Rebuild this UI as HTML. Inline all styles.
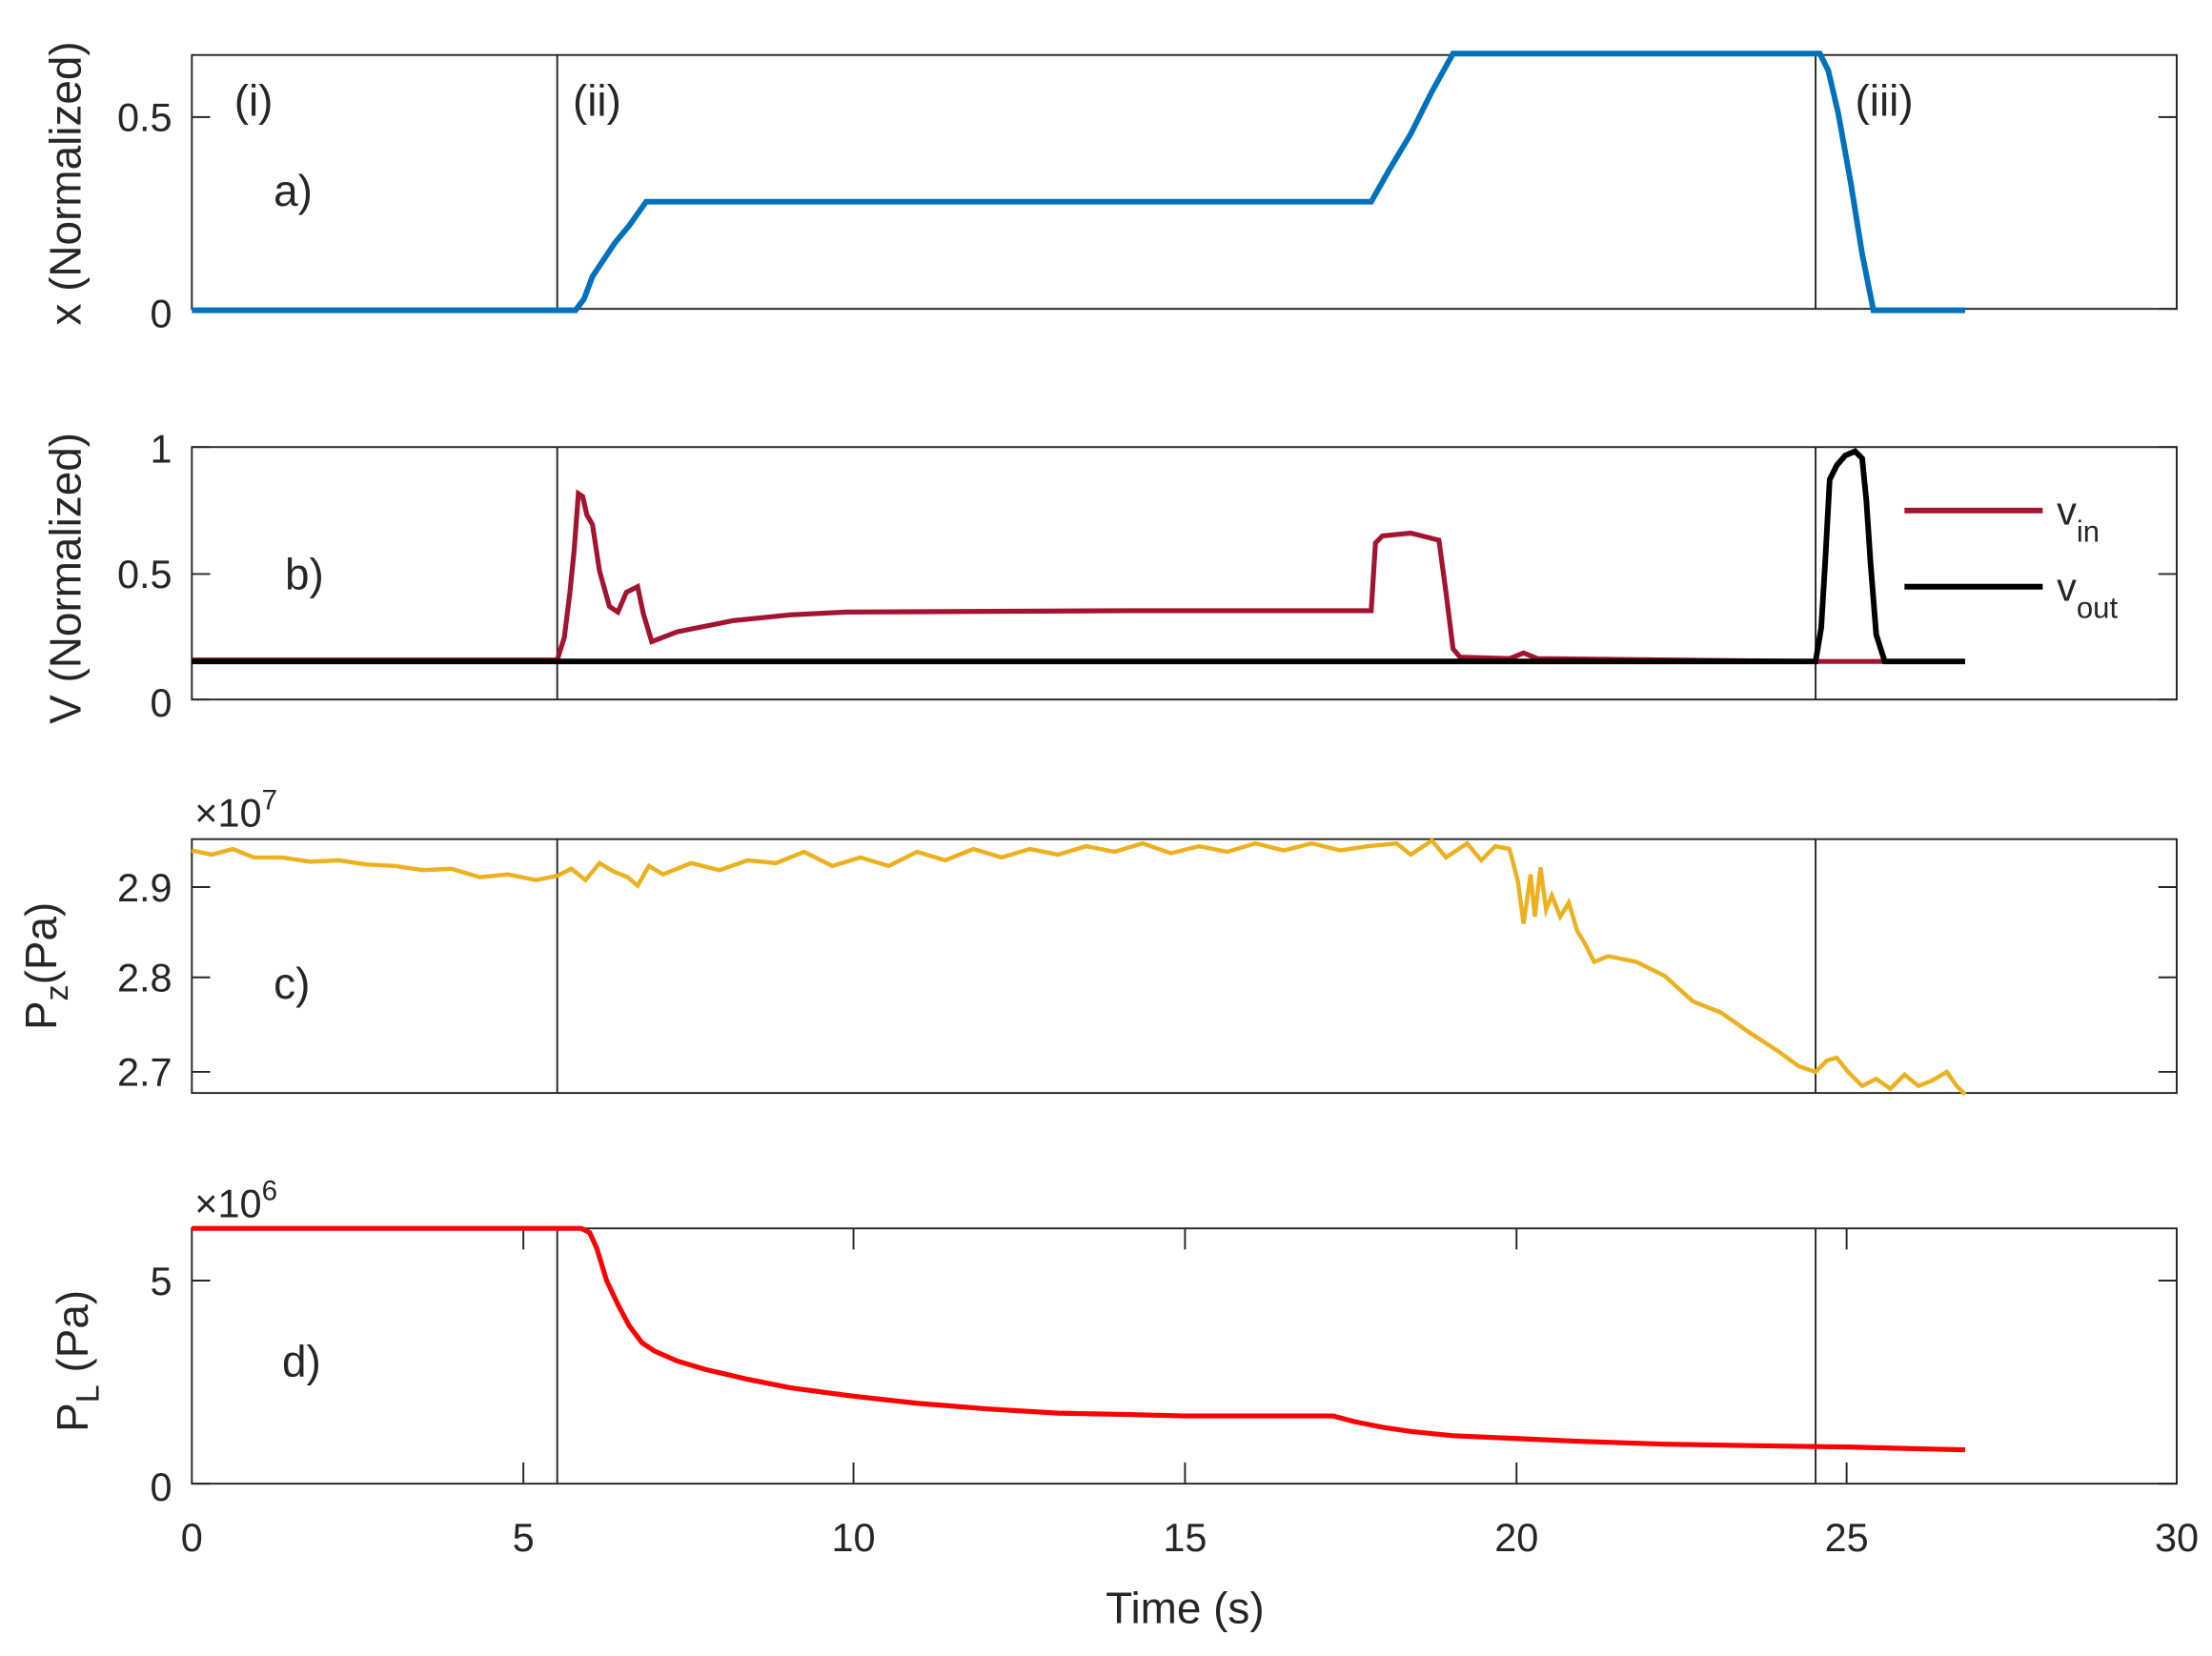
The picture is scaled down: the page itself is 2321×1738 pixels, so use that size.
<!DOCTYPE html>
<html><head><meta charset="utf-8"><style>
html,body{margin:0;padding:0;background:#fff;}
svg{display:block;}
text{font-family:"Liberation Sans",sans-serif;fill:#262626;}
</style></head><body>
<svg width="2321" height="1738" viewBox="0 0 1568 1174.2" preserveAspectRatio="none" xmlns="http://www.w3.org/2000/svg">
<g fill="none" stroke="#262626" stroke-width="1.3">
<rect x="136" y="39" width="1407" height="180"/>
<rect x="136" y="317" width="1407" height="179"/>
<rect x="136" y="595" width="1407" height="180"/>
<rect x="136" y="871" width="1407" height="181"/>
<line x1="395" y1="39" x2="395" y2="219"/><line x1="1287" y1="39" x2="1287" y2="219"/>
<line x1="395" y1="317" x2="395" y2="496"/><line x1="1287" y1="317" x2="1287" y2="496"/>
<line x1="395" y1="595" x2="395" y2="775"/><line x1="1287" y1="595" x2="1287" y2="775"/>
<line x1="395" y1="871" x2="395" y2="1052"/><line x1="1287" y1="871" x2="1287" y2="1052"/>
<path d="M136 83h13M1543 83h-13M136 219h13M1543 219h-13"/>
<path d="M136 317h13M1543 317h-13M136 407h13M1543 407h-13M136 496h13M1543 496h-13"/>
<path d="M136 629h13M1543 629h-13M136 693h13M1543 693h-13M136 760h13M1543 760h-13"/>
<path d="M136 908h13M1543 908h-13M136 1052h13M1543 1052h-13"/>
<path d="M371 1052v-15M605 1052v-15M840 1052v-15M1075 1052v-15M1309 1052v-15M371 871v15M605 871v15M840 871v15M1075 871v15M1309 871v15"/>
</g>
<g font-size="28" text-anchor="end">
<text x="122" y="93">0.5</text><text x="122" y="232">0</text>
<text x="122" y="328">1</text><text x="122" y="417">0.5</text><text x="122" y="508">0</text>
<text x="122" y="639">2.9</text><text x="122" y="703">2.8</text><text x="122" y="770">2.7</text>
<text x="122" y="918">5</text><text x="122" y="1064">0</text>
</g>
<g font-size="28" text-anchor="middle">
<text x="136" y="1100">0</text><text x="371" y="1100">5</text><text x="605" y="1100">10</text><text x="840" y="1100">15</text><text x="1075" y="1100">20</text><text x="1309" y="1100">25</text><text x="1543" y="1100">30</text>
<text x="840" y="1151" font-size="31">Time (s)</text>
</g>
<text x="138" y="586" font-size="28">×10<tspan font-size="20" dy="-12">7</tspan></text>
<text x="138" y="863" font-size="28">×10<tspan font-size="20" dy="-12">6</tspan></text>
<g font-size="31" text-anchor="middle">
<text transform="translate(57,130) rotate(-90)">x (Normalized)</text>
<text transform="translate(57,410) rotate(-90)">V (Normalized)</text>
<text transform="translate(40,685) rotate(-90)">P<tspan font-size="23" dy="8">z</tspan><tspan dy="-8">(Pa)</tspan></text>
<text transform="translate(62,965) rotate(-90)">P<tspan font-size="23" dy="8">L</tspan><tspan dy="-8"> (Pa)</tspan></text>
</g>
<g font-size="31">
<text x="166" y="82">(i)</text><text x="406" y="82">(ii)</text><text x="1315" y="82">(iii)</text>
<text x="194" y="146">a)</text><text x="202" y="418">b)</text><text x="194" y="708">c)</text><text x="200" y="976">d)</text>
</g>
<polyline fill="none" stroke="#0072BD" stroke-width="4" points="136,220 408,220 414,212 420,196 428,184 436,172 446,160 458,143 972,143 985,120 1000,95 1015,65 1030,38 1290,38 1296,50 1303,80 1312,130 1320,180 1328,220 1393,220"/>
<polyline fill="none" stroke="#A2142F" stroke-width="3.5" points="136,468 395,468 400,452 404,420 407,390 410,350 413,352 416,365 420,372 425,405 432,430 438,434 444,420 452,416 456,435 462,455 480,448 520,440 560,436 600,434 800,433 972,433 975,385 980,380 1000,378 1020,383 1025,420 1030,460 1035,466 1070,467 1080,463 1090,467 1287,469 1335,469"/>
<polyline fill="none" stroke="#000" stroke-width="4" points="136,469 1287,469 1291,445 1294,395 1297,340 1302,330 1308,323 1315,320 1320,325 1323,355 1326,400 1330,450 1336,469 1393,469"/>
<line x1="1350" y1="362" x2="1448" y2="362" stroke="#A2142F" stroke-width="4"/>
<line x1="1350" y1="416" x2="1448" y2="416" stroke="#000" stroke-width="4"/>
<text x="1458" y="372" font-size="28">v<tspan font-size="21" dy="12">in</tspan></text>
<text x="1458" y="426" font-size="28">v<tspan font-size="21" dy="12">out</tspan></text>
<polyline fill="none" stroke="#EDB120" stroke-width="3" points="136,603 150,606 165,602 180,608 200,608 220,611 240,610 260,613 280,614 300,617 320,616 340,622 360,620 380,624 395,621 405,616 415,624 425,612 435,618 445,622 452,628 460,614 470,620 490,612 510,617 530,610 550,612 570,604 590,614 610,608 630,614 650,604 670,610 690,602 710,608 730,602 750,606 770,600 790,604 810,598 830,605 850,600 870,604 890,598 910,603 930,598 950,603 970,600 990,598 1000,606 1015,596 1025,608 1040,598 1050,610 1060,600 1070,602 1076,625 1080,655 1085,620 1088,650 1092,615 1096,645 1100,635 1106,650 1112,640 1118,660 1124,670 1130,682 1140,678 1160,682 1180,692 1200,710 1220,718 1240,732 1260,745 1275,756 1287,760 1295,752 1302,750 1310,760 1320,770 1330,765 1340,772 1350,762 1360,770 1370,766 1380,760 1387,770 1393,776"/>
<polyline fill="none" stroke="#FF0000" stroke-width="3.5" points="136,871 412,871 418,874 423,885 430,908 438,925 446,940 455,952 464,958 480,965 500,971 530,978 560,984 605,990 650,995 700,999 750,1002 800,1003 840,1004 900,1004 945,1004 960,1008 980,1012 1000,1015 1030,1018 1075,1020 1120,1022 1180,1024 1240,1025 1310,1026 1350,1027 1393,1028"/>
</svg>
</body></html>
